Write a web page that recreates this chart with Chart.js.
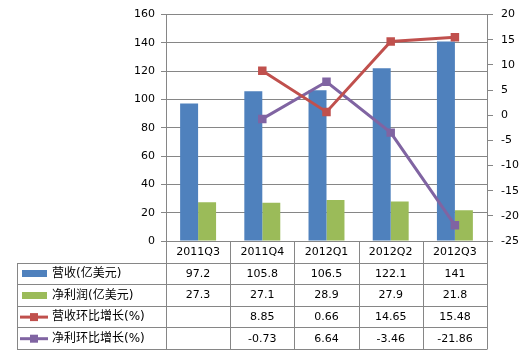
<!DOCTYPE html>
<html><head><meta charset="utf-8">
<script src="https://cdn.jsdelivr.net/npm/chart.js@4"></script>
<style>html,body{margin:0;padding:0;background:#fff}</style>
</head><body>
<canvas id="c" width="524" height="356"></canvas>
<script>
const categories = ['2011Q3','2011Q4','2012Q1','2012Q2','2012Q3'];
const revenue = [97.2, 105.8, 106.5, 122.1, 141];
const profit = [27.3, 27.1, 28.9, 27.9, 21.8];
const revenueGrowth = [null, 8.85, 0.66, 14.65, 15.48];
const profitGrowth = [null, -0.73, 6.64, -3.46, -21.86];
const seriesNames = ['营收(亿美元)', '净利润(亿美元)', '营收环比增长(%)', '净利环比增长(%)'];
const leftAxis = {min: 0, max: 160, step: 20};
const rightAxis = {min: -25, max: 20, step: 5};

const BLUE = '#4F81BD', GREEN = '#9BBB59', RED = '#C0504D', PURPLE = '#8064A2';
const GRID = '#868686';
const FONT = '"DejaVu Sans", "Noto Sans CJK SC", sans-serif';

const tablePlugin = {
  id: 'dataTable',
  afterDraw(chart) {
    const ctx = chart.ctx;
    const xs = chart.scales.x;
    const area = chart.chartArea;
    const top = area.bottom;
    const rowH = 21.6;
    const tableLeft = 17;
    const n = categories.length;
    const colW = (area.right - area.left) / n;
    const right = area.right;
    const bottom = top + rowH * 5;
    ctx.save();
    ctx.strokeStyle = GRID;
    ctx.lineWidth = 1;
    ctx.beginPath();
    for (let k = 1; k <= 5; k++) {
      const y = Math.round(top + rowH * k) + 0.5;
      ctx.moveTo(tableLeft, y); ctx.lineTo(right, y);
    }
    ctx.moveTo(tableLeft + 0.5, Math.round(top + rowH) + 0.5);
    ctx.lineTo(tableLeft + 0.5, Math.round(bottom) + 0.5);
    for (let i = 0; i <= n; i++) {
      const x = Math.round(area.left + colW * i) + 0.5;
      ctx.moveTo(x, Math.round(top) + 0.5); ctx.lineTo(x, Math.round(bottom) + 0.5);
    }
    ctx.stroke();

    ctx.fillStyle = '#000';
    ctx.font = '11px ' + FONT;
    ctx.textAlign = 'center';
    ctx.textBaseline = 'middle';
    categories.forEach((c, i) => {
      ctx.fillText(c, xs.getPixelForValue(i), top + rowH / 2 + 0.5);
    });
    const rows = [revenue, profit, revenueGrowth, profitGrowth];
    const colors = [BLUE, GREEN, RED, PURPLE];
    rows.forEach((vals, r) => {
      const cy = top + rowH * (r + 1.5) + 0.5;
      ctx.font = '11px ' + FONT;
      vals.forEach((v, i) => {
        if (v !== null) ctx.fillText(String(v), xs.getPixelForValue(i), cy);
      });
      if (r < 2) {
        ctx.fillStyle = colors[r];
        ctx.fillRect(22, Math.round(cy - 3.5), 25, 7);
      } else {
        ctx.strokeStyle = colors[r];
        ctx.lineWidth = 3;
        ctx.beginPath(); ctx.moveTo(20, cy); ctx.lineTo(48, cy); ctx.stroke();
        ctx.fillStyle = colors[r];
        ctx.fillRect(30, cy - 4, 8, 8);
      }
      ctx.fillStyle = '#000';
      ctx.textAlign = 'left';
      ctx.font = '12px ' + FONT;
      ctx.fillText(seriesNames[r], 52, cy);
      ctx.textAlign = 'center';
    });
    ctx.restore();
  }
};

new Chart(document.getElementById('c'), {
  data: {
    labels: categories,
    datasets: [
      {type: 'line', label: seriesNames[2], data: revenueGrowth, yAxisID: 'y1', order: 0,
       borderColor: RED, backgroundColor: RED, borderWidth: 3, pointStyle: 'rect',
       pointRadius: 6, pointBorderWidth: 0, tension: 0},
      {type: 'line', label: seriesNames[3], data: profitGrowth, yAxisID: 'y1', order: 0,
       borderColor: PURPLE, backgroundColor: PURPLE, borderWidth: 3, pointStyle: 'rect',
       pointRadius: 6, pointBorderWidth: 0, tension: 0},
      {type: 'bar', label: seriesNames[0], data: revenue, yAxisID: 'y', order: 1,
       backgroundColor: BLUE, categoryPercentage: 0.56, barPercentage: 1},
      {type: 'bar', label: seriesNames[1], data: profit, yAxisID: 'y', order: 1,
       backgroundColor: GREEN, categoryPercentage: 0.56, barPercentage: 1}
    ]
  },
  options: {
    responsive: false,
    animation: false,
    layout: {padding: {top: 10, left: 0, right: 0, bottom: 0}},
    plugins: {legend: {display: false}, tooltip: {enabled: false}},
    scales: {
      x: {
        position: 'bottom',
        grid: {display: false},
        border: {display: false},
        ticks: {display: false},
        afterFit(s) { s.height = 115; }
      },
      y: {
        position: 'left',
        min: leftAxis.min, max: leftAxis.max,
        ticks: {stepSize: leftAxis.step, color: '#000', font: {family: FONT, size: 11}, padding: 6},
        grid: {color: GRID, tickLength: 5, drawTicks: true},
        border: {color: GRID},
        afterFit(s) { s.width = 166; }
      },
      y1: {
        position: 'right',
        min: rightAxis.min, max: rightAxis.max,
        ticks: {stepSize: rightAxis.step, color: '#000', font: {family: FONT, size: 11}, padding: 8},
        grid: {drawOnChartArea: false, color: GRID, tickLength: 6},
        border: {color: GRID},
        afterFit(s) { s.width = 37; }
      }
    }
  },
  plugins: [tablePlugin]
});
</script>
</body></html>
